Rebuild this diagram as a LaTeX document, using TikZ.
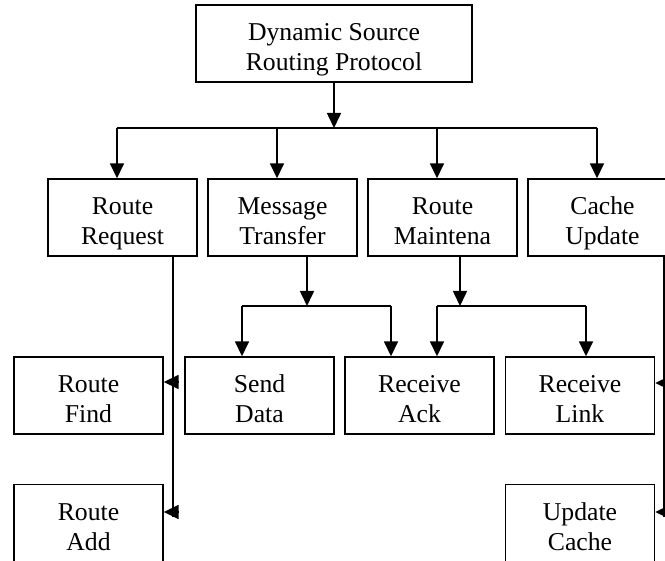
\documentclass[tikz,border=0pt]{standalone}
\usepackage{fontspec}
\setmainfont{Liberation Serif}
\usetikzlibrary{arrows.meta}
% two centred lines with fixed height and depth, so every box sets its text alike
\newcommand{\boxtext}[2]{\rule{0pt}{34pt}#1\\#2\rule[-9pt]{0pt}{9pt}}
\begin{document}
\begin{tikzpicture}[x=1pt,y=-1pt,
  box/.style={draw,line width=1.4pt,rectangle,inner sep=0pt,
    minimum width=149pt,minimum height=77pt,align=center,
    font=\fontsize{25.7}{30}\selectfont},
  link/.style={line width=1.6pt},
  arr/.style={link,-{Triangle[length=15pt,width=14pt]}}]
\useasboundingbox (0,0) rectangle (665,561);
\clip (0,0) rectangle (665,561);

% root
\node[box,minimum width=276pt] (dsr) at (334,43.5) {\boxtext{Dynamic Source}{Routing Protocol}};

% second level
\node[box] (rreq) at (122.5,217.5) {\boxtext{Route}{Request}};
\node[box] (msg)  at (282.5,217.5) {\boxtext{Message}{Transfer}};
\node[box] (rm)   at (442.5,217.5) {\boxtext{Route}{Maintena}};
\node[box] (cu)   at (602.5,217.5) {\boxtext{Cache}{Update}};

% third level
\node[box] (rf)  at (88.5,395.5)  {\boxtext{Route}{Find}};
\node[box] (sd)  at (259.5,395.5) {\boxtext{Send}{Data}};
\node[box] (ra)  at (419.5,395.5) {\boxtext{Receive}{Ack}};
\node[box] (rl)  at (580,395.5)   {\boxtext{Receive}{Link}};

% fourth level
\node[box] (radd) at (88.5,523) {\boxtext{Route}{Add}};
\node[box] (uc)   at (580,523)  {\boxtext{Update}{Cache}};

% root fan-out
\coordinate (bus) at (334,128);
\draw[arr] (dsr.south) -- (bus);
\draw[link] ([xshift=-5.5pt]rreq.north |- bus) -- ([xshift=-5.5pt]cu.north |- bus);
\foreach \n in {rreq,msg,rm,cu}
  \draw[arr] ([xshift=-5.5pt]\n.north |- bus) -- ([xshift=-5.5pt]\n.north);

% message transfer branch
\coordinate (mj) at (307,306);
\draw[arr] (mj |- msg.south) -- (mj);
\draw[link] ([xshift=-17.5pt]sd.north |- mj) -- ([xshift=-28.5pt]ra.north |- mj);
\draw[arr] ([xshift=-17.5pt]sd.north |- mj) -- ([xshift=-17.5pt]sd.north);
\draw[arr] ([xshift=-28.5pt]ra.north |- mj) -- ([xshift=-28.5pt]ra.north);

% route maintenance branch
\coordinate (rj) at (460,306);
\draw[arr] (rj |- rm.south) -- (rj);
\draw[link] ([xshift=17.5pt]ra.north |- rj) -- ([xshift=6pt]rl.north |- rj);
\draw[arr] ([xshift=17.5pt]ra.north |- rj) -- ([xshift=17.5pt]ra.north);
\draw[arr] ([xshift=6pt]rl.north |- rj) -- ([xshift=6pt]rl.north);

% route request side line
\coordinate (rq1) at (173,256);
\coordinate (rq2) at (173,517);
\draw[link] (rq1 |- rreq.south) -- (rq2);
\draw[arr] (178,382) -- (rf.east |- 0,382);
\draw[arr] (178,512) -- (radd.east |- 0,512);

% cache update side line
\coordinate (cq1) at (664,256);
\coordinate (cq2) at (664,517);
\draw[link] (cq1 |- cu.south) -- (cq2);
\draw[arr] (670,383) -- (rl.east |- 0,383);
\draw[arr] (670,512) -- (uc.east |- 0,512);
\end{tikzpicture}
\end{document}
